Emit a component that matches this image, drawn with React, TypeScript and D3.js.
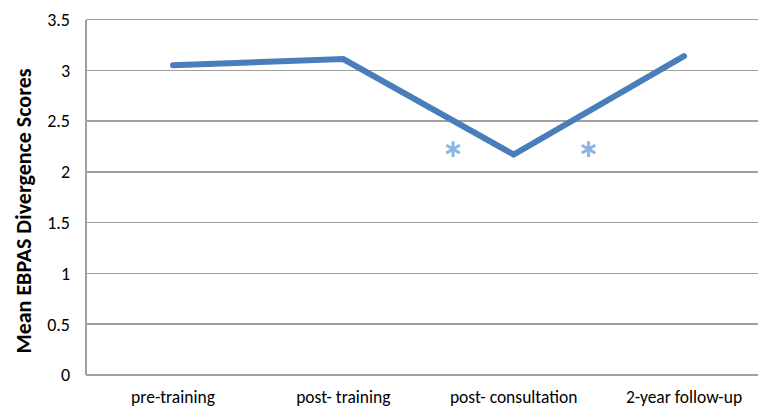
import * as d3 from "d3";

const categories = ["pre-training", "post- training", "post- consultation", "2-year follow-up"];
const scores = [3.05, 3.11, 2.17, 3.14];
const yTicks = [0, 0.5, 1, 1.5, 2, 2.5, 3, 3.5];
// significance markers sit between the points they compare
const markers = [
  { between: [1, 2], shift: 24.5, value: 2.22 },
  { between: [2, 3], shift: -10.5, value: 2.22 },
];

const W = 759;
const H = 408;
const LEFT = 86;
const RIGHT = 758;
const TOP = 19.5;
const BOTTOM = 375;

export default function App() {
  const x = d3.scalePoint<string>().domain(categories).range([173, 684]);
  const y = d3.scaleLinear().domain([0, 3.5]).range([BOTTOM, TOP]);
  const line = d3
    .line<number>()
    .x((_, i) => x(categories[i]) as number)
    .y((d) => y(d));

  const font = "Calibri, Carlito, 'Open Sans', 'Liberation Sans', sans-serif";

  return (
    <svg width={W} height={H} style={{ position: "absolute", left: 0, top: 0, background: "#fff" }} fontFamily={font}>
      {/* gridlines */}
      {yTicks.map((t) => (
        <line key={t} x1={LEFT} x2={RIGHT} y1={y(t)} y2={y(t)} stroke="#a0a0a0" strokeWidth={1.5} shapeRendering="crispEdges" />
      ))}
      <line x1={LEFT} x2={LEFT} y1={TOP} y2={BOTTOM} stroke="#a0a0a0" strokeWidth={1.5} shapeRendering="crispEdges" />

      {yTicks.map((t) => (
        <text key={t} x={70} y={y(t)} dy="0.35em" textAnchor="end" fontSize={18} fill="#000">
          {t}
        </text>
      ))}

      {categories.map((c) => (
        <text key={c} x={x(c)} y={403} textAnchor="middle" fontSize={17.5} fill="#000">
          {c}
        </text>
      ))}

      <text transform="translate(23, 211) rotate(-90)" textAnchor="middle" dy="0.35em" fontSize={22} fontWeight="bold" fill="#000">
        Mean EBPAS Divergence Scores
      </text>

      <path d={line(scores) ?? ""} fill="none" stroke="#4a7ebb" strokeWidth={6} strokeLinecap="round" strokeLinejoin="miter" />

      {markers.map((m, i) => {
        const cx = ((x(categories[m.between[0]]) as number) + (x(categories[m.between[1]]) as number)) / 2;
        return (
          <text key={i} x={cx + m.shift} y={y(m.value)} dy="0.55em" textAnchor="middle" fontSize={48} fontWeight="bold" fill="#8db3e2">
            *
          </text>
        );
      })}
    </svg>
  );
}
